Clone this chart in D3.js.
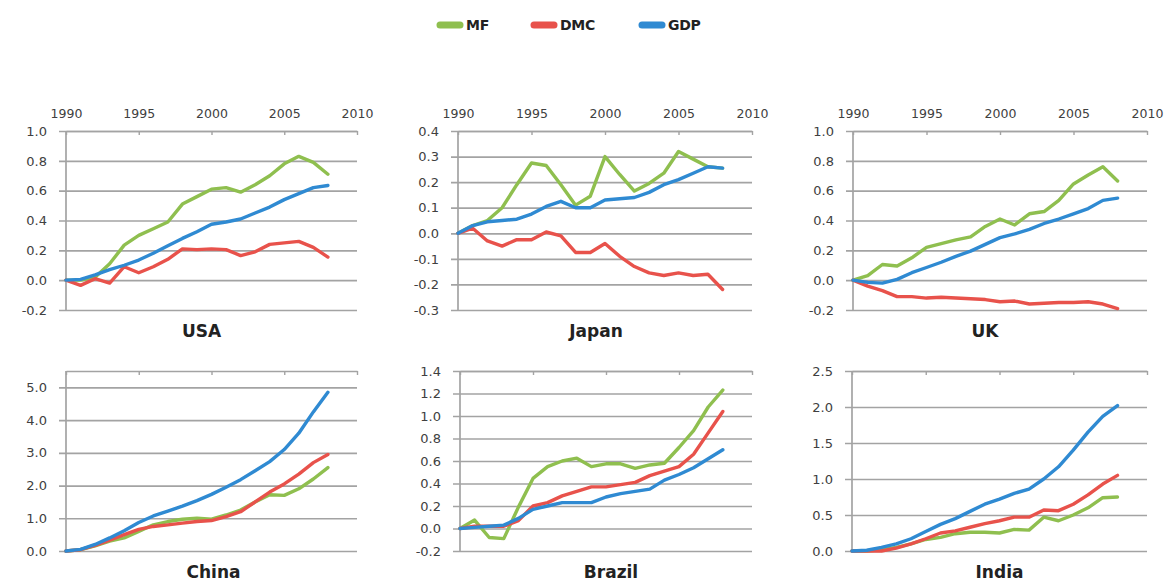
<!DOCTYPE html>
<html>
<head>
<meta charset="utf-8">
<script src="https://cdn.jsdelivr.net/npm/d3@7"></script>
<style>
  html, body { margin: 0; padding: 0; background: #ffffff; }
  svg { display: block; }
</style>
</head>
<body>
<svg id="chart" width="1168" height="581"></svg>
<script>
// ---------- DATA ----------
const years = [1990,1991,1992,1993,1994,1995,1996,1997,1998,1999,2000,2001,2002,2003,2004,2005,2006,2007,2008];
const seriesNames = ["MF", "DMC", "GDP"];
const countries = ["USA", "Japan", "UK", "China", "Brazil", "India"];
const xTicks = [1990, 1995, 2000, 2005, 2010];

const usaMF  = [0, 0.0, 0.02, 0.11, 0.235, 0.30, 0.345, 0.39, 0.51, 0.56, 0.61, 0.62, 0.59, 0.64, 0.70, 0.78, 0.83, 0.79, 0.71];
const usaDMC = [0, -0.035, 0.01, -0.02, 0.09, 0.05, 0.09, 0.14, 0.21, 0.205, 0.21, 0.205, 0.165, 0.19, 0.24, 0.25, 0.26, 0.22, 0.155];
const usaGDP = [0, 0.005, 0.035, 0.07, 0.10, 0.135, 0.18, 0.23, 0.28, 0.325, 0.375, 0.39, 0.41, 0.45, 0.49, 0.54, 0.58, 0.62, 0.635];

const japanMF  = [0, 0.03, 0.05, 0.10, 0.19, 0.275, 0.265, 0.19, 0.11, 0.145, 0.30, 0.23, 0.165, 0.195, 0.235, 0.32, 0.29, 0.26, 0.255];
const japanDMC = [0, 0.02, -0.03, -0.05, -0.025, -0.025, 0.005, -0.01, -0.075, -0.075, -0.04, -0.09, -0.13, -0.155, -0.165, -0.155, -0.165, -0.16, -0.22];
const japanGDP = [0, 0.03, 0.045, 0.05, 0.055, 0.075, 0.105, 0.125, 0.10, 0.10, 0.13, 0.135, 0.14, 0.16, 0.19, 0.21, 0.235, 0.26, 0.255];

const ukMF  = [0, 0.03, 0.105, 0.095, 0.15, 0.22, 0.245, 0.27, 0.29, 0.36, 0.41, 0.37, 0.445, 0.46, 0.535, 0.645, 0.705, 0.76, 0.665];
const ukDMC = [0, -0.04, -0.07, -0.11, -0.11, -0.12, -0.115, -0.12, -0.125, -0.13, -0.145, -0.14, -0.16, -0.155, -0.15, -0.15, -0.145, -0.16, -0.19];
const ukGDP = [0, -0.015, -0.02, 0.005, 0.05, 0.085, 0.12, 0.16, 0.195, 0.24, 0.285, 0.31, 0.34, 0.38, 0.41, 0.445, 0.48, 0.535, 0.55];

const chinaMF  = [0, 0.04, 0.16, 0.3, 0.4, 0.6, 0.8, 0.9, 0.97, 1.0, 0.97, 1.1, 1.25, 1.5, 1.72, 1.7, 1.9, 2.2, 2.55];
const chinaDMC = [0, 0.04, 0.17, 0.33, 0.5, 0.66, 0.75, 0.8, 0.85, 0.9, 0.93, 1.05, 1.2, 1.5, 1.8, 2.05, 2.35, 2.7, 2.95];
const chinaGDP = [0, 0.05, 0.2, 0.4, 0.62, 0.87, 1.07, 1.22, 1.37, 1.54, 1.73, 1.95, 2.18, 2.45, 2.73, 3.1, 3.6, 4.25, 4.85];

const brazilMF  = [0, 0.075, -0.08, -0.09, 0.19, 0.445, 0.55, 0.6, 0.625, 0.55, 0.575, 0.575, 0.535, 0.565, 0.58, 0.72, 0.87, 1.08, 1.23];
const brazilDMC = [0, 0.02, 0.02, 0.02, 0.07, 0.2, 0.23, 0.29, 0.33, 0.37, 0.37, 0.39, 0.41, 0.47, 0.51, 0.55, 0.66, 0.85, 1.04];
const brazilGDP = [0, 0.01, 0.02, 0.03, 0.09, 0.17, 0.2, 0.23, 0.23, 0.23, 0.28, 0.31, 0.33, 0.35, 0.43, 0.48, 0.54, 0.62, 0.7];

const indiaMF  = [0, 0.0, 0.02, 0.05, 0.1, 0.16, 0.19, 0.24, 0.26, 0.26, 0.25, 0.3, 0.29, 0.47, 0.42, 0.5, 0.6, 0.74, 0.75];
const indiaDMC = [0, 0.0, 0.0, 0.04, 0.1, 0.17, 0.25, 0.28, 0.33, 0.38, 0.42, 0.47, 0.47, 0.57, 0.56, 0.65, 0.78, 0.93, 1.05];
const indiaGDP = [0, 0.01, 0.05, 0.1, 0.17, 0.27, 0.37, 0.45, 0.55, 0.65, 0.72, 0.8, 0.86, 1.0, 1.17, 1.4, 1.65, 1.87, 2.02];

const usaYTicks    = [-0.2, 0.0, 0.2, 0.4, 0.6, 0.8, 1.0];
const japanYTicks  = [-0.3, -0.2, -0.1, 0.0, 0.1, 0.2, 0.3, 0.4];
const ukYTicks     = [-0.2, 0.0, 0.2, 0.4, 0.6, 0.8, 1.0];
const chinaYTicks  = [0.0, 1.0, 2.0, 3.0, 4.0, 5.0];
const brazilYTicks = [-0.2, 0.0, 0.2, 0.4, 0.6, 0.8, 1.0, 1.2, 1.4];
const indiaYTicks  = [0.0, 0.5, 1.0, 1.5, 2.0, 2.5];

// ---------- STYLE / LAYOUT ----------
const colors = { MF: "#8fbf4f", DMC: "#e8524b", GDP: "#2f8ad2" };
const gridColor = "#a3a3a3";
const textColor = "#404040";

const panels = [
  { name: "USA",    series: [usaMF, usaDMC, usaGDP],          yTicks: usaYTicks,    yMax: 1.0, left: 66,  right: 357,  top: 131, bottom: 310, labels: true,  titleDx: -10 },
  { name: "Japan",  series: [japanMF, japanDMC, japanGDP],    yTicks: japanYTicks,  yMax: 0.4, left: 458, right: 752,  top: 131, bottom: 310, labels: true,  titleDx: -9 },
  { name: "UK",     series: [ukMF, ukDMC, ukGDP],             yTicks: ukYTicks,     yMax: 1.0, left: 853, right: 1147, top: 131, bottom: 310, labels: true,  titleDx: -15 },
  { name: "China",  series: [chinaMF, chinaDMC, chinaGDP],    yTicks: chinaYTicks,  yMax: 5.5, left: 66,  right: 357,  top: 371, bottom: 551, labels: false, titleDx: 2 },
  { name: "Brazil", series: [brazilMF, brazilDMC, brazilGDP], yTicks: brazilYTicks, yMax: 1.4, left: 460, right: 752,  top: 371, bottom: 551, labels: false, titleDx: 5 },
  { name: "India",  series: [indiaMF, indiaDMC, indiaGDP],    yTicks: indiaYTicks,  yMax: 2.5, left: 852, right: 1147, top: 371, bottom: 551, labels: false, titleDx: 0 }
];

const svg = d3.select("#chart");
const fmt = v => (Math.abs(v) < 1e-9 ? "0.0" : v.toFixed(1));

panels.forEach(p => {
  const yMin = p.yTicks[0];
  const x = d3.scaleLinear().domain([1990, 2010]).range([p.left, p.right]);
  const y = d3.scaleLinear().domain([yMin, p.yMax]).range([p.bottom, p.top]);
  const g = svg.append("g");

  // horizontal gridlines with outward tick marks and labels (left axis)
  const yAxis = d3.axisLeft(y)
    .tickValues(p.yTicks)
    .tickSize(-(p.right - p.left))
    .tickSizeOuter(0)
    .tickPadding(19)
    .tickFormat(fmt);
  const ya = g.append("g").attr("transform", `translate(${p.left},0)`).call(yAxis);
  ya.select(".domain").remove();
  ya.selectAll(".tick line")
    .attr("x1", -7)
    .attr("stroke", gridColor)
    .attr("stroke-width", 1.7);
  ya.selectAll(".tick text")
    .attr("fill", textColor)
    .attr("font-family", "DejaVu Sans, Verdana, sans-serif")
    .attr("font-size", 13);

  // vertical axis line
  g.append("line")
    .attr("x1", p.left).attr("x2", p.left)
    .attr("y1", y(p.yMax)).attr("y2", y(yMin) + 1)
    .attr("stroke", gridColor).attr("stroke-width", 1.7);

  // top x axis
  const xAxis = d3.axisTop(x)
    .tickValues(xTicks)
    .tickSize(-4)
    .tickSizeOuter(0)
    .tickPadding(13)
    .tickFormat(p.labels ? d3.format("d") : () => "");
  const xa = g.append("g").attr("transform", `translate(0,${y(p.yMax)})`).call(xAxis);
  xa.select(".domain").attr("stroke", gridColor).attr("stroke-width", 1.7);
  xa.selectAll(".tick line").attr("stroke", gridColor).attr("stroke-width", 1.4);
  xa.selectAll(".tick text")
    .attr("fill", textColor)
    .attr("font-family", "DejaVu Sans, Verdana, sans-serif")
    .attr("font-size", 12.5);

  // series lines
  const line = d3.line()
    .x((d, i) => x(years[i]))
    .y(d => y(d));
  p.series.forEach((vals, si) => {
    g.append("path")
      .datum(vals)
      .attr("fill", "none")
      .attr("stroke", colors[seriesNames[si]])
      .attr("stroke-width", 3.4)
      .attr("stroke-linejoin", "round")
      .attr("stroke-linecap", "round")
      .attr("d", line);
  });

  // title
  g.append("text")
    .attr("x", (p.left + p.right) / 2 + p.titleDx)
    .attr("y", p.bottom + 27)
    .attr("text-anchor", "middle")
    .attr("font-family", "DejaVu Sans, Verdana, sans-serif")
    .attr("font-weight", "bold")
    .attr("font-size", 17)
    .attr("fill", "#222")
    .text(p.name);
});

// ---------- LEGEND ----------
const legendX = [440, 534, 642];
const legend = svg.append("g");
seriesNames.forEach((name, i) => {
  legend.append("line")
    .attr("x1", legendX[i]).attr("x2", legendX[i] + 20)
    .attr("y1", 25).attr("y2", 25)
    .attr("stroke", colors[name])
    .attr("stroke-width", 7)
    .attr("stroke-linecap", "round");
  legend.append("text")
    .attr("x", legendX[i] + 26)
    .attr("y", 25)
    .attr("dy", "0.36em")
    .attr("font-family", "DejaVu Sans, Verdana, sans-serif")
    .attr("font-weight", "bold")
    .attr("font-size", 14)
    .attr("letter-spacing", -0.3)
    .attr("fill", "#222")
    .text(name);
});
</script>
</body>
</html>
